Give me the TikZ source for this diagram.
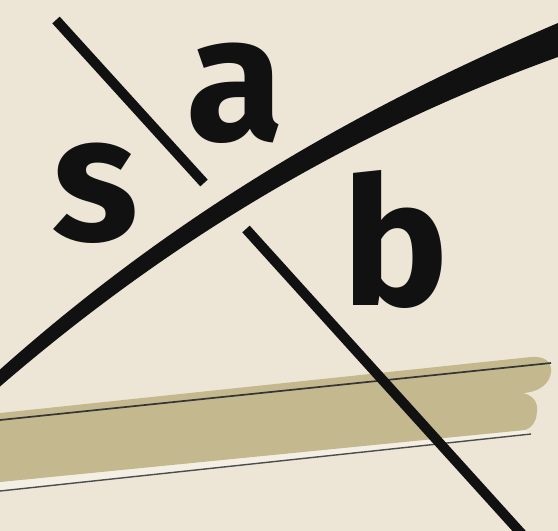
\documentclass[tikz,border=0pt]{standalone}
\usepackage{fontspec}
\setmainfont{Fira Sans}
\definecolor{paper}{HTML}{EDE6D6}
\definecolor{khaki}{HTML}{C4B88F}
\definecolor{pale}{HTML}{F4EFE4}
\definecolor{ink}{HTML}{111111}
\begin{document}
\begin{tikzpicture}[x=1pt,y=-1pt,
  letter/.style={inner sep=0pt, anchor=base, text=ink, font=\bfseries\fontsize{178}{178}\selectfont},
  rule/.style={line width=10pt, draw=ink},
  pencil/.style={draw=ink!85, line width=1.7pt},
  pencilfaint/.style={draw=ink!75, line width=1.4pt}]
\fill[paper] (0,0) rectangle (558,531);
\useasboundingbox (0,0) rectangle (558,531);
\clip (0,0) rectangle (558,531);
% khaki band
\fill[pale] (0,482) -- (525,430) -- (531,434) -- (0,491) -- cycle;
\fill[khaki] (0,413) -- (531,357) .. controls (545,356) and (552,362) .. (551,372)
  .. controls (550,383) and (540,392) .. (523,393)
  .. controls (535,396) and (538,404) .. (537,412)
  .. controls (536,422) and (532,428) .. (525,430) -- (0,482) -- cycle;
\coordinate (u1) at (0,420);
\coordinate (u2) at (551,363);
\coordinate (l1) at (0,491);
\coordinate (l2) at (531,434);
\draw[pencil] (u1) -- (u2);
\draw[pencilfaint] (l1) -- (l2);
% thin diagonal rule, broken at the curve
\coordinate (d1) at (56,20);
\coordinate (d2) at (204,183);
\coordinate (d3) at (246,229);
\coordinate (d4) at (530,543);
\draw[rule] (d1) -- (d2);
\draw[rule] (d3) -- (d4);
% thick tapering curve
\fill[ink] (0,369.5) .. controls (186,204) and (372,102) .. (558,23)
  -- (558,57) .. controls (372,124) and (186,226) .. (0,386.5) -- cycle;
% letters
\node[letter] (s) at (95,240) {s};
\node[letter] (a) at (235,140) {a};
\node[letter] (b) at (396,305) {b};
\end{tikzpicture}
\end{document}
